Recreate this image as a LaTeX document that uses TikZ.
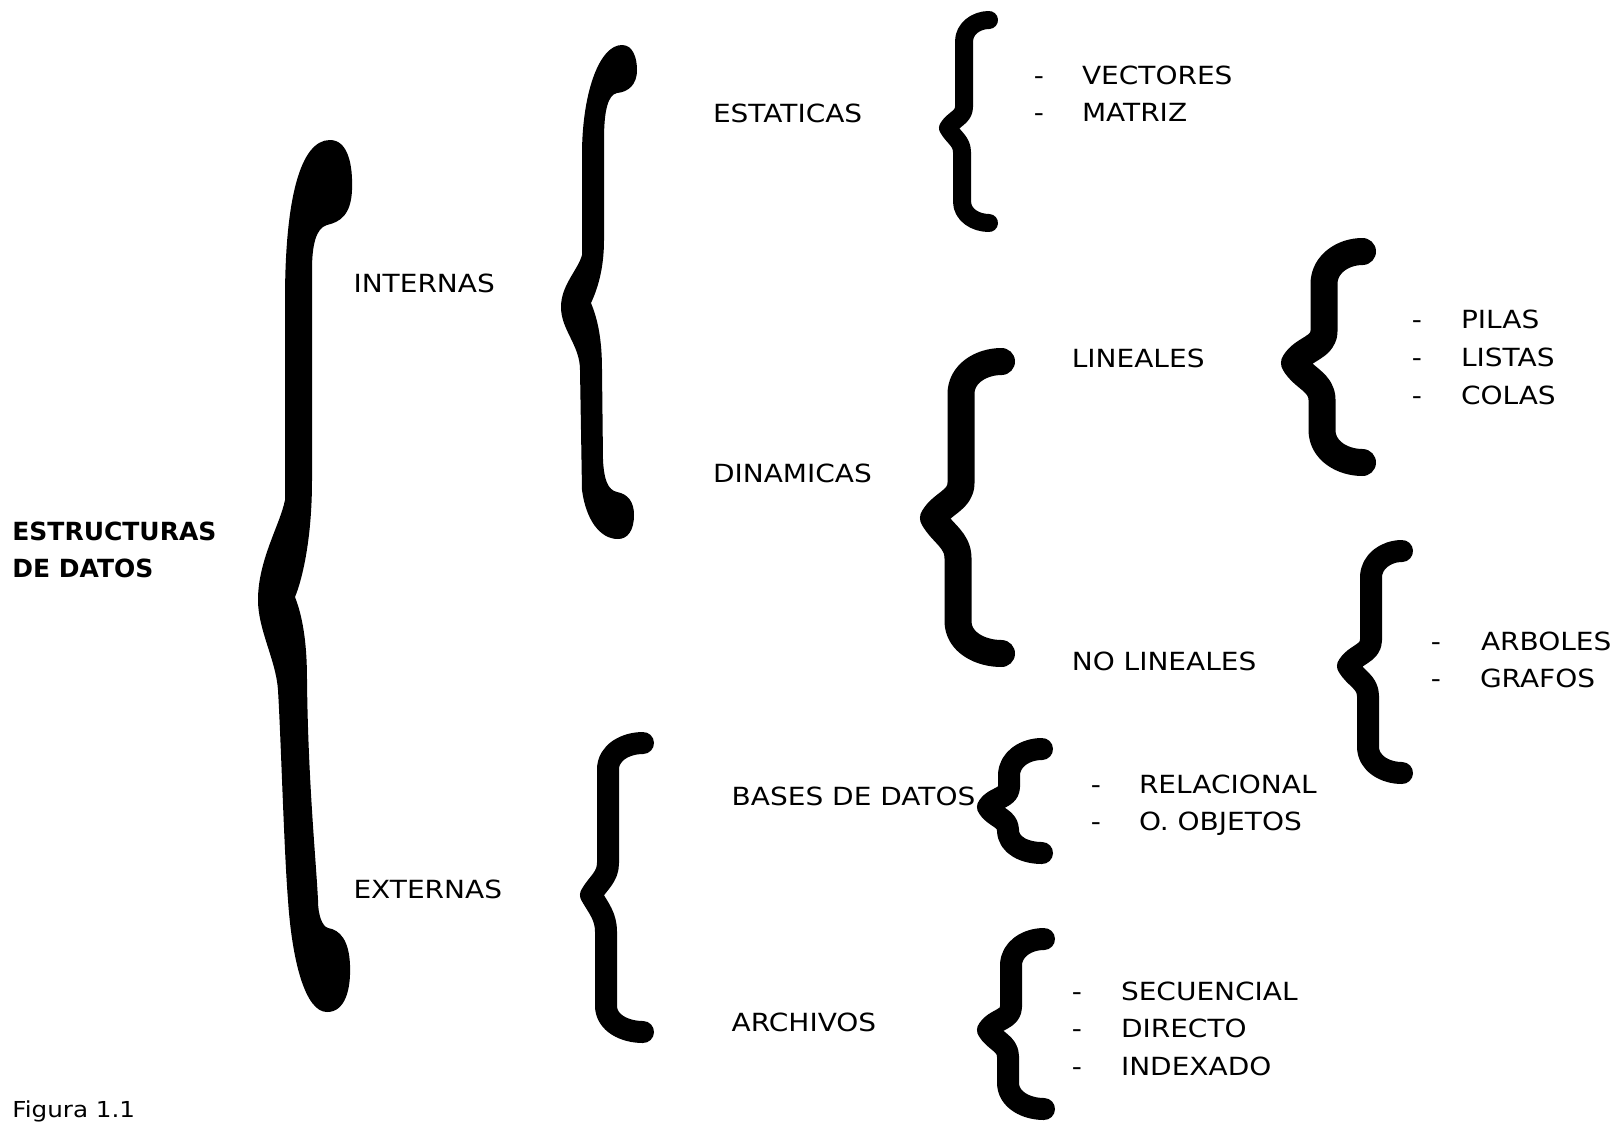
\documentclass[tikz,border=0pt]{standalone}
\usepackage{fontspec}
\setmainfont[FakeStretch=1.12]{DejaVu Sans}
\newfontfamily\titlefont{DejaVu Sans}
% #1 xc top, #2 xc bottom, #3 y top, #4 y mid, #5 y bottom, #6 x left (mid), #7 x right (tips), #8 line width (px), #9 kink half height
\newcommand\curlybrc[9]{%
  \draw[line width={#8*0.5pt}, line cap=round, line join=round]
    ({#7-#8/2},{#3+#8/2+3}) to[out=180,in=90] (#1,{min(#3+#8/2+3+1.2*#8,#4-#9)})
    -- (#1,{#4-#9}) to[out=-90,in=60] ({#6+#8/2},#4) to[out=-60,in=90] (#2,{#4+1.15*#9})
    -- (#2,{max(#4+1.15*#9,#5-#8/2-3-1.2*#8)}) to[out=-90,in=180] ({#7-#8/2},{#5-#8/2-3});
}
\begin{document}
\begin{tikzpicture}[x=0.5pt,y=-0.5pt,
  lbl/.style={anchor=base west, inner sep=0pt, outer sep=0pt, font=\fontsize{12.5}{15}\selectfont},
  dsh/.style={anchor=base, inner sep=0pt, outer sep=0pt, font=\fontsize{12.5}{15}\selectfont},
  ttl/.style={anchor=base west, inner sep=0pt, outer sep=0pt, font=\titlefont\bfseries\fontsize{12.5}{15}\selectfont},
  figcaption/.style={anchor=base west, inner sep=0pt, outer sep=0pt, font=\fontsize{11}{13}\selectfont}]
\path[fill=white] (0,0) rectangle (1616,1126);
\useasboundingbox (0,0) rectangle (1616,1126);

% big brace (filled outline)
\fill[black]
  (330,140) .. controls (348,140) and (353,165) .. (352,190)
  .. controls (351,215) and (340,222) .. (327,225)
  .. controls (316,228) and (312,245) .. (312,270)
  -- (312,480)
  .. controls (312,540) and (302,580) .. (295,597)
  .. controls (302,615) and (307,640) .. (307,680)
  .. controls (308,780) and (316,860) .. (318,900)
  .. controls (318,915) and (322,926) .. (328,928)
  .. controls (340,930) and (349,940) .. (350,965)
  .. controls (351,990) and (345,1012) .. (327,1012)
  .. controls (305,1012) and (292,960) .. (288,900)
  .. controls (284,850) and (281,740) .. (278,690)
  .. controls (276,660) and (258,630) .. (258,600)
  .. controls (258,560) and (280,525) .. (285,500)
  -- (285,300)
  .. controls (285,200) and (300,140) .. (330,140) -- cycle;

% INTERNAS brace (filled outline)
\fill[black]
  (622,45) .. controls (633,45) and (637,58) .. (637,70)
  .. controls (637,85) and (628,92) .. (617,93)
  .. controls (608,95) and (604,110) .. (604,140)
  -- (604,240)
  .. controls (604,270) and (597,290) .. (591,303)
  .. controls (598,320) and (602,340) .. (602,370)
  -- (603,460)
  .. controls (604,480) and (608,490) .. (617,492)
  .. controls (628,494) and (634,502) .. (634,515)
  .. controls (634,530) and (628,539) .. (618,539)
  .. controls (600,539) and (586,520) .. (582,490)
  -- (580,370)
  .. controls (580,345) and (561,330) .. (561,307)
  .. controls (561,285) and (578,270) .. (582,255)
  -- (582,150)
  .. controls (583,90) and (600,45) .. (622,45) -- cycle;

% ESTATICAS
\curlybrc{964}{962}{8}{128}{235}{939}{998}{18}{21}
% DINAMICAS
\curlybrc{961}{958}{345}{518}{670}{920}{1015}{27}{35}
% LINEALES
\curlybrc{1324}{1322}{235}{363}{479}{1281}{1376}{27}{32}
% NO LINEALES
\curlybrc{1371}{1368}{537}{666}{787}{1337}{1413}{22}{26}
% EXTERNAS
\curlybrc{608}{606}{729}{895}{1046}{580}{654}{22}{32}
% BASES DE DATOS
\curlybrc{1009}{1008}{735}{807}{867}{977}{1053}{22}{20}
% ARCHIVOS
\curlybrc{1011}{1008}{925}{1030}{1123}{977}{1055}{22}{23}

% texts
\node[ttl] (t1) at (12.4,540) {ESTRUCTURAS};
\node[ttl] (t2) at (12.4,577) {DE DATOS};
\node[lbl] (int) at (353.5,292.7) {INTERNAS};
\node[lbl] (ext) at (353.5,898.7) {EXTERNAS};
\node[lbl] (est) at (713,122.7) {ESTATICAS};
\node[lbl] (din) at (713,482.3) {DINAMICAS};
\node[lbl] (bd) at (731.7,805) {BASES DE DATOS};
\node[lbl] (arc) at (731.7,1031.7) {ARCHIVOS};
\node[lbl] (lin) at (1071.8,367) {LINEALES};
\node[lbl] (nol) at (1071.8,670) {NO LINEALES};

\node[dsh] (d1) at (1039,84.5) {-};
\node[lbl] (vec) at (1082,84.5) {VECTORES};
\node[dsh] (d2) at (1039,121.6) {-};
\node[lbl] (mat) at (1082,121.6) {MATRIZ};

\node[dsh] (d3) at (1417,328.8) {-};
\node[lbl] (pil) at (1461,328.8) {PILAS};
\node[dsh] (d4) at (1417,366) {-};
\node[lbl] (lis) at (1461,366) {LISTAS};
\node[dsh] (d5) at (1417,404) {-};
\node[lbl] (col) at (1461,404) {COLAS};

\node[dsh] (d6) at (1436,650) {-};
\node[lbl] (arb) at (1481,650) {ARBOLES};
\node[dsh] (d7) at (1436,687.3) {-};
\node[lbl] (gra) at (1480,687.3) {GRAFOS};

\node[dsh] (d8) at (1096,793.6) {-};
\node[lbl] (rel) at (1139,793.6) {RELACIONAL};
\node[dsh] (d9) at (1096,830.7) {-};
\node[lbl] (obj) at (1139,830.7) {O. OBJETOS};

\node[dsh] (d10) at (1077,1000.7) {-};
\node[lbl] (sec) at (1121,1000.7) {SECUENCIAL};
\node[dsh] (d11) at (1077,1037.8) {-};
\node[lbl] (dir) at (1121,1037.8) {DIRECTO};
\node[dsh] (d12) at (1077,1075) {-};
\node[lbl] (ind) at (1121,1075) {INDEXADO};

\node[figcaption] (fig) at (12.4,1117) {Figura 1.1};
\end{tikzpicture}
\end{document}
